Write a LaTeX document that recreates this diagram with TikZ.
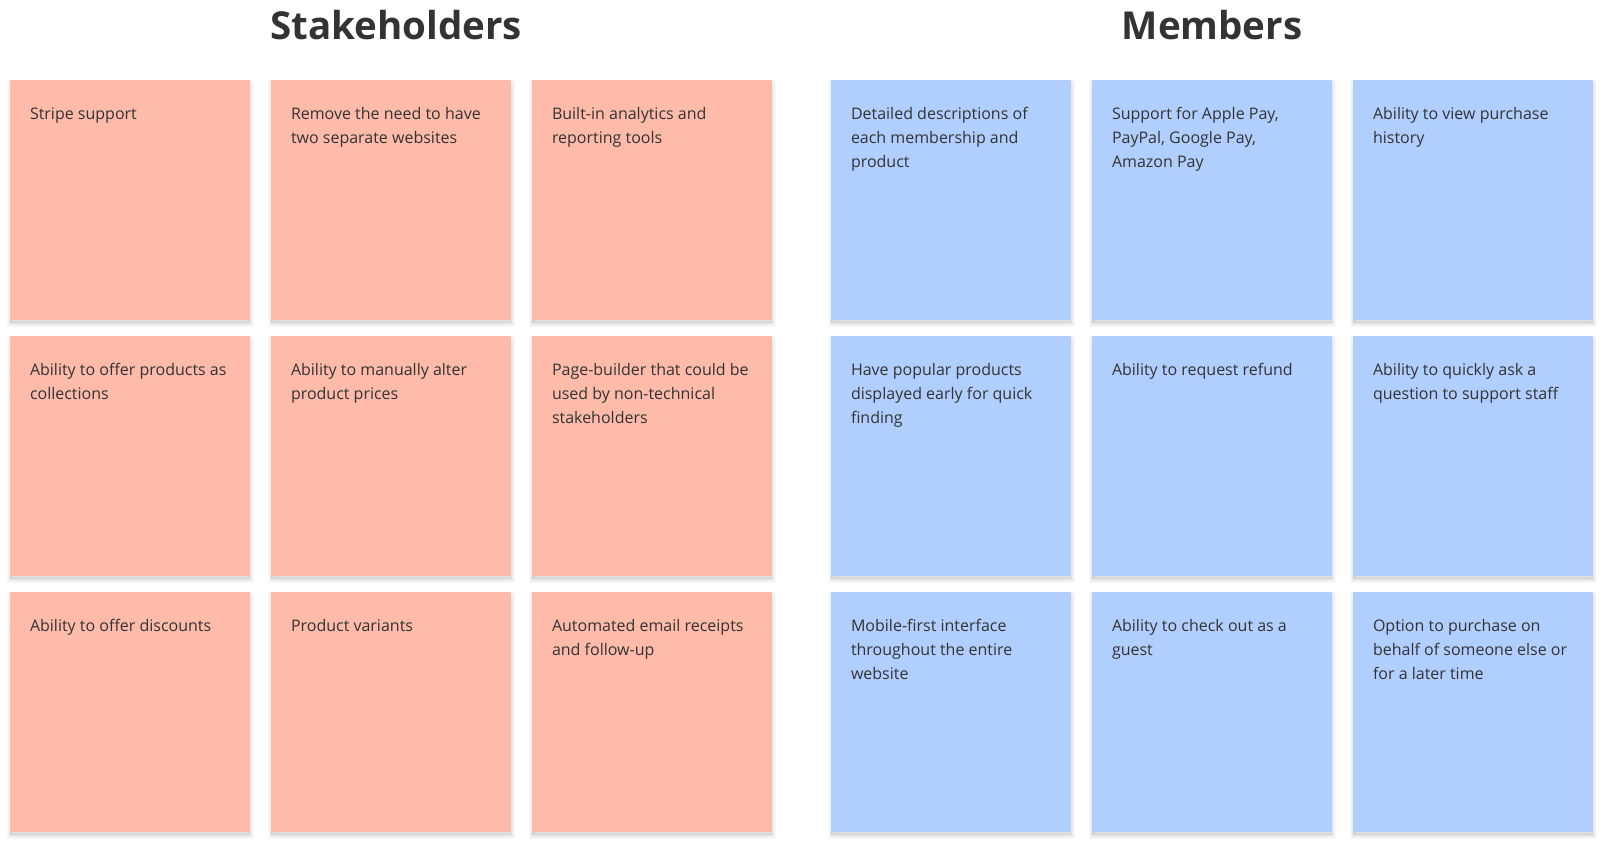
\documentclass[tikz,border=0pt]{standalone}
\usepackage{fontspec}
\setmainfont{Open Sans}
\definecolor{pinkcard}{HTML}{FFBBAA}
\definecolor{bluecard}{HTML}{B0CFFF}
\definecolor{ink}{HTML}{333333}
\newcommand\mkcard[5]{%
  \node[card, fill=#2] (#1) at (#3,#4) {};
  \node[note] (#1t) at ([xshift=20pt,yshift=-23pt]#1.north west) {\rule{0pt}{16pt}#5};
}
\begin{document}
\begin{tikzpicture}[x=1pt,y=-1pt,
  shade layer/.style={preaction={draw=black, line width=#1, draw opacity=0.025, fill=black, fill opacity=0.025,
      transform canvas={yshift=-3pt}}},
  card/.style={draw=none, minimum width=240pt, minimum height=240pt, inner sep=0pt,
    shade layer=7pt, shade layer=5pt, shade layer=3pt, shade layer=1pt},
  note/.style={anchor=north west, inner sep=0pt, align=left, text=ink,
    font={\fontsize{16}{24}\selectfont}},
  heading/.style={anchor=base, inner sep=0pt, text=ink,
    font={\fontsize{38.5}{46}\selectfont\bfseries}}]
\useasboundingbox (0,0) rectangle (1603,851);
\fill[white] (0,0) rectangle (1603,851);
\node[heading] (th1) at (396,40) {Stakeholders};
\node[heading] (th2) at (1212,40) {Members};
% Stakeholders
\mkcard{s11}{pinkcard}{130}{200}{Stripe support}
\mkcard{s12}{pinkcard}{391}{200}{Remove the need to have\\two separate websites}
\mkcard{s13}{pinkcard}{652}{200}{Built-in analytics and\\reporting tools}
\mkcard{s21}{pinkcard}{130}{456}{Ability to offer products as\\collections}
\mkcard{s22}{pinkcard}{391}{456}{Ability to manually alter\\product prices}
\mkcard{s23}{pinkcard}{652}{456}{Page-builder that could be\\used by non-technical\\stakeholders}
\mkcard{s31}{pinkcard}{130}{712}{Ability to offer discounts}
\mkcard{s32}{pinkcard}{391}{712}{Product variants}
\mkcard{s33}{pinkcard}{652}{712}{Automated email receipts\\and follow-up}
% Members
\mkcard{m11}{bluecard}{951}{200}{Detailed descriptions of\\each membership and\\product}
\mkcard{m12}{bluecard}{1212}{200}{Support for Apple Pay,\\PayPal, Google Pay,\\Amazon Pay}
\mkcard{m13}{bluecard}{1473}{200}{Ability to view purchase\\history}
\mkcard{m21}{bluecard}{951}{456}{Have popular products\\displayed early for quick\\finding}
\mkcard{m22}{bluecard}{1212}{456}{Ability to request refund}
\mkcard{m23}{bluecard}{1473}{456}{Ability to quickly ask a\\question to support staff}
\mkcard{m31}{bluecard}{951}{712}{Mobile-first interface\\throughout the entire\\website}
\mkcard{m32}{bluecard}{1212}{712}{Ability to check out as a\\guest}
\mkcard{m33}{bluecard}{1473}{712}{Option to purchase on\\behalf of someone else or\\for a later time}
\end{tikzpicture}
\end{document}
